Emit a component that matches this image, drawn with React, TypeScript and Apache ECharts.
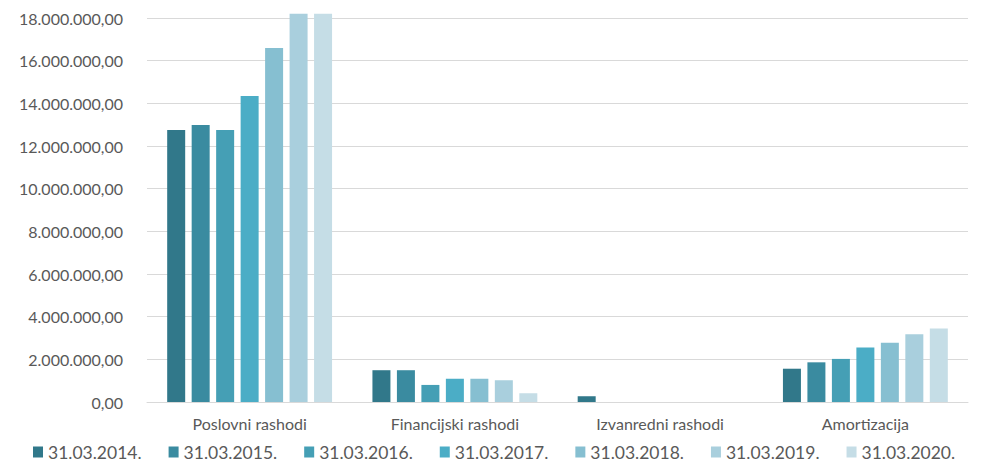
import React, { useEffect, useRef } from "react";
import * as echarts from "echarts";

const categories = ["Poslovni rashodi", "Financijski rashodi", "Izvanredni rashodi", "Amortizacija"];
const seriesNames = ["31.03.2014.", "31.03.2015.", "31.03.2016.", "31.03.2017.", "31.03.2018.", "31.03.2019.", "31.03.2020."];
const colors = ["#31788A", "#3A8BA0", "#459FB5", "#4BADC6", "#86BFD1", "#A9CFDD", "#C5DDE6"];
const v2014 = [12750000, 1490000, 270000, 1560000];
const v2015 = [12980000, 1490000, 0, 1860000];
const v2016 = [12750000, 800000, 0, 2020000];
const v2017 = [14340000, 1090000, 0, 2550000];
const v2018 = [16590000, 1090000, 0, 2780000];
const v2019 = [18200000, 1020000, 0, 3170000];
const v2020 = [18200000, 410000, 0, 3450000];
const seriesValues = [v2014, v2015, v2016, v2017, v2018, v2019, v2020];

function fmt(v: number): string {
  const s = Math.round(v).toString();
  const parts: string[] = [];
  for (let i = s.length; i > 0; i -= 3) parts.unshift(s.substring(Math.max(0, i - 3), i));
  return parts.join(".") + ",00";
}

export default function App() {
  const ref = useRef<HTMLDivElement>(null);
  useEffect(() => {
    document.body.style.margin = "0";
    const chart = echarts.init(ref.current!, null, { renderer: "svg" });
    chart.setOption({
      animation: false,
      backgroundColor: "#ffffff",
      textStyle: { fontFamily: "Lato" },
      grid: { left: 147, right: 14, top: 18, bottom: 60, containLabel: false },
      legend: {
        top: 438,
        left: 28,
        padding: 5,
        icon: "rect",
        itemWidth: 10,
        itemHeight: 11,
        itemGap: 27,
        textStyle: { color: "#595959", fontSize: 17.5, fontFamily: "Lato" },
        data: seriesNames,
      },
      xAxis: {
        type: "category",
        data: categories,
        axisLine: { lineStyle: { color: "#d9d9d9", width: 1 } },
        axisTick: { show: false },
        axisLabel: { color: "#595959", fontSize: 16, margin: 13 },
      },
      yAxis: {
        type: "value",
        min: 0,
        max: 18000000,
        interval: 2000000,
        axisLine: { show: false },
        axisTick: { show: false },
        splitLine: { lineStyle: { color: "#d9d9d9", width: 1 } },
        axisLabel: { color: "#595959", fontSize: 16, margin: 24, formatter: (v: number) => fmt(v) },
      },
      series: seriesNames.map((name, i) => ({
        name,
        type: "bar",
        data: seriesValues[i],
        barWidth: 18,
        barGap: "36%",
        clip: false,
        itemStyle: { color: colors[i] },
      })),
    });
    return () => chart.dispose();
  }, []);
  return <div ref={ref} style={{ width: 982, height: 462 }} />;
}
